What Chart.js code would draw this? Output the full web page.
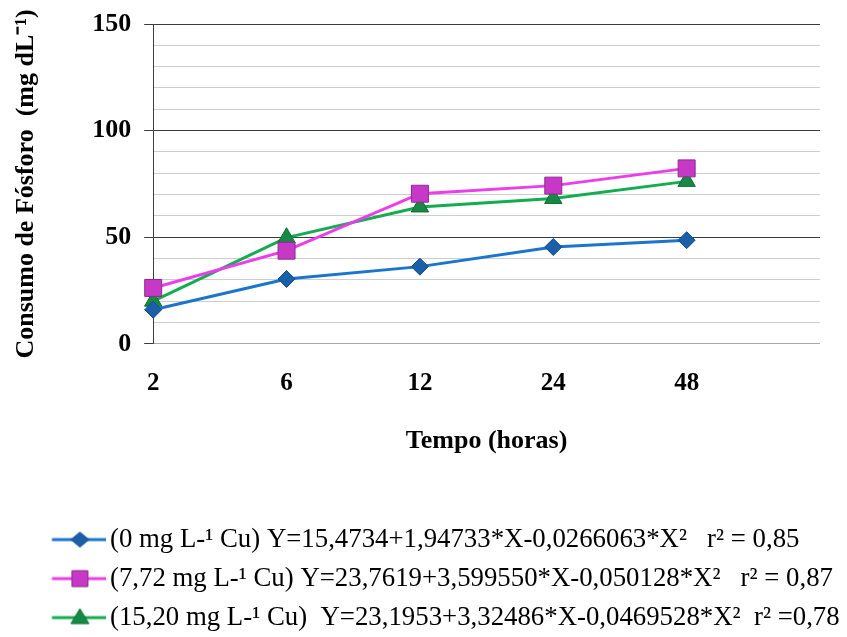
<!DOCTYPE html>
<html>
<head>
<meta charset="utf-8">
<script src="https://cdn.jsdelivr.net/npm/chart.js@4.4.1/dist/chart.umd.min.js"></script>
<style>
html,body{margin:0;padding:0;background:#fff;}
canvas{display:block;}
</style>
</head>
<body>
<canvas id="c" width="847" height="637"></canvas>
<script>
const categories = ['2', '6', '12', '24', '48', ''];
const cu0 = [16.0, 30.4, 36.2, 45.4, 48.6];
const cu772 = [26.2, 43.7, 70.4, 74.2, 82.3];
const cu1520 = [20.0, 49.8, 64.2, 68.2, 76.2];
const seriesLabels = [
  '(0 mg L-\u00B9 Cu) Y=15,4734+1,94733*X-0,0266063*X\u00B2   r\u00B2 = 0,85',
  '(7,72 mg L-\u00B9 Cu) Y=23,7619+3,599550*X-0,050128*X\u00B2   r\u00B2 = 0,87',
  '(15,20 mg L-\u00B9 Cu)  Y=23,1953+3,32486*X-0,0469528*X\u00B2  r\u00B2 =0,78'
];
const yTitle = 'Consumo de F\u00F3sforo  (mg dL\u207B\u00B9)';
const xTitle = 'Tempo (horas)';

const SERIF = '"Liberation Serif", "Times New Roman", serif';

const styles = [
  {line: '#1B75CC', fill: '#1A5FA8', border: '#134C8A', shape: 'rectRot', r: 8.5},
  {line: '#EC3CEC', fill: '#C638C6', border: '#8E2A8E', shape: 'rect', r: 12},
  {line: '#13AD4F', fill: '#168A45', border: '#0E6B33', shape: 'triangle', r: 10}
];

function legendImage(s) {
  const c = document.createElement('canvas');
  c.width = 104; c.height = 26;
  const g = c.getContext('2d');
  const cy = 13, cx = 77.5;
  g.strokeStyle = s.line; g.lineWidth = 3;
  g.beginPath(); g.moveTo(49.5, cy); g.lineTo(104, cy); g.stroke();
  g.fillStyle = s.fill; g.strokeStyle = s.border; g.lineWidth = 1;
  g.beginPath();
  if (s.shape === 'rectRot') {
    g.moveTo(cx, cy - 7.5); g.lineTo(cx + 9, cy); g.lineTo(cx, cy + 7.5); g.lineTo(cx - 9, cy);
  } else if (s.shape === 'rect') {
    g.rect(cx - 8, cy - 8, 16, 16);
  } else {
    g.moveTo(cx, cy - 9); g.lineTo(cx + 9, cy + 6); g.lineTo(cx - 9, cy + 6);
  }
  g.closePath(); g.fill(); g.stroke();
  return c;
}
const legendImgs = styles.map(legendImage);

const dataSets = [cu0, cu772, cu1520].map((d, i) => ({
  label: seriesLabels[i],
  data: d,
  borderColor: styles[i].line,
  backgroundColor: styles[i].fill,
  pointBackgroundColor: styles[i].fill,
  pointBorderColor: styles[i].border,
  pointBorderWidth: 1,
  pointStyle: styles[i].shape,
  pointRadius: styles[i].r,
  borderWidth: 3,
  tension: 0,
  fill: false,
  yAxisID: 'y'
}));

new Chart(document.getElementById('c'), {
  type: 'line',
  data: {labels: categories, datasets: dataSets},
  options: {
    responsive: false,
    animation: false,
    devicePixelRatio: 1,
    layout: {padding: {top: 20, right: 0, bottom: -4, left: 0}},
    plugins: {
      tooltip: {enabled: false},
      legend: {
        display: true,
        position: 'bottom',
        align: 'start',
        labels: {
          usePointStyle: true,
          pointStyleWidth: 84.4,
          boxHeight: 20,
          padding: 12.2,
          color: '#000',
          font: {family: SERIF, size: 26.8},
          generateLabels: (chart) => chart.data.datasets.map((ds, i) => ({
            text: ds.label,
            pointStyle: legendImgs[i],
            fillStyle: ds.backgroundColor,
            strokeStyle: ds.borderColor,
            lineWidth: 0,
            hidden: false,
            datasetIndex: i,
            fontColor: '#000'
          }))
        }
      }
    },
    scales: {
      x: {
        offset: false,
        grid: {display: false, drawTicks: false},
        border: {display: false},
        ticks: {
          color: '#000',
          padding: 25,
          maxRotation: 0,
          autoSkip: false,
          font: {family: SERIF, size: 25, weight: 'bold'}
        },
        title: {
          display: true,
          text: xTitle,
          color: '#000',
          font: {family: SERIF, size: 26, weight: 'bold'},
          padding: {top: 2, bottom: 57}
        }
      },
      y: {
        position: 'left',
        min: 0,
        max: 150,
        border: {display: true, color: '#404040', width: 1},
        grid: {
          color: (ctx) => {
            const v = ctx.tick.value;
            if (v === 0) return '#a8a8a8';
            return v % 50 === 0 ? '#3c3c3c' : '#cdcdcd';
          },
          lineWidth: 1,
          drawTicks: true,
          tickLength: 9,
          tickColor: (ctx) => (ctx.tick.value % 50 === 0 ? '#3c3c3c' : 'rgba(0,0,0,0)')
        },
        ticks: {
          stepSize: 10,
          autoSkip: false,
          color: '#000',
          padding: 13,
          font: {family: SERIF, size: 26, weight: 'bold', lineHeight: 0.85},
          callback: (v) => (v % 50 === 0 ? String(v) : '')
        },
        title: {
          display: true,
          text: yTitle,
          color: '#000',
          font: {family: SERIF, size: 26, weight: 'bold'},
          padding: {top: 11, bottom: 37}
        }
      },
      yRight: {
        position: 'right',
        display: true,
        min: 0,
        max: 150,
        grid: {display: false, drawTicks: false},
        border: {display: false},
        ticks: {display: false},
        afterFit: (scale) => { scale.width = 27; }
      }
    }
  }
});
</script>
</body>
</html>
